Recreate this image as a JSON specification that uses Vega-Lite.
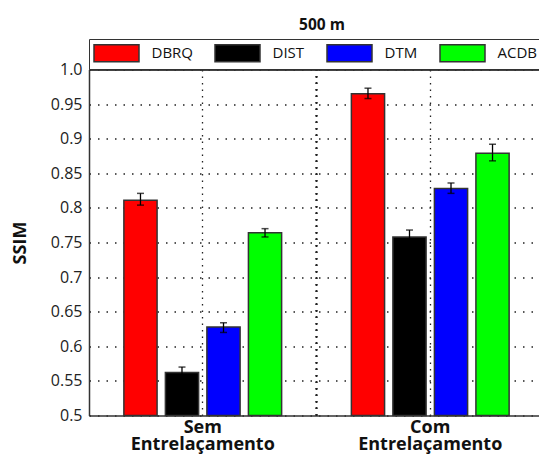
{
  "$schema": "https://vega.github.io/schema/vega-lite/v6.json",
  "width": 450,
  "height": 346,
  "autosize": {"type": "none"},
  "padding": {"left": 89, "top": 69.5, "right": 0, "bottom": 38.5},
  "config": {"view": {"stroke": null}, "font": "Open Sans"},
  "title": {"text": "500 m", "fontSize": 15.5, "fontWeight": "bold", "font": "Open Sans", "color": "#111", "anchor": "middle", "dx": 8, "offset": 5},
  "data": {"values": [
    {"cond": "Sem Entrelaçamento", "method": "DBRQ", "ssim": 0.811, "lo": 0.804, "hi": 0.821},
    {"cond": "Sem Entrelaçamento", "method": "DIST", "ssim": 0.562, "lo": 0.553, "hi": 0.570},
    {"cond": "Sem Entrelaçamento", "method": "DTM", "ssim": 0.628, "lo": 0.620, "hi": 0.634},
    {"cond": "Sem Entrelaçamento", "method": "ACDB", "ssim": 0.764, "lo": 0.758, "hi": 0.770},
    {"cond": "Com Entrelaçamento", "method": "DBRQ", "ssim": 0.965, "lo": 0.958, "hi": 0.973},
    {"cond": "Com Entrelaçamento", "method": "DIST", "ssim": 0.758, "lo": 0.747, "hi": 0.768},
    {"cond": "Com Entrelaçamento", "method": "DTM", "ssim": 0.828, "lo": 0.821, "hi": 0.836},
    {"cond": "Com Entrelaçamento", "method": "ACDB", "ssim": 0.879, "lo": 0.868, "hi": 0.892}
  ]},
  "layer": [
    {
      "mark": {"type": "bar", "stroke": "#333", "strokeWidth": 1.5},
      "encoding": {
        "x": {
          "field": "cond", "type": "nominal",
          "sort": ["Sem Entrelaçamento", "Com Entrelaçamento"],
          "scale": {"range": [0, 455], "paddingInner": 0, "paddingOuter": 0},
          "axis": {"title": null, "labelAngle": 0, "labelExpr": "split(datum.label, ' ')", "labelFontSize": 18, "labelFontWeight": "bold", "labelColor": "#111", "labelLineHeight": 17, "labelPadding": 3, "ticks": false, "domainColor": "#333", "domainWidth": 1.5, "grid": true, "gridColor": "#222", "gridWidth": 1.3, "gridDash": [1.5, 5], "gridOpacity": 1}
        },
        "xOffset": {
          "field": "method", "type": "nominal",
          "sort": ["DBRQ", "DIST", "DTM", "ACDB"],
          "scale": {"paddingInner": 0.2, "paddingOuter": 0.84}
        },
        "y": {
          "field": "ssim", "type": "quantitative",
          "scale": {"domain": [0.5, 1], "nice": false, "zero": false},
          "axis": {"values": [0.5, 0.55, 0.6, 0.65, 0.7, 0.75, 0.8, 0.85, 0.9, 0.95, 1.0], "labelExpr": "datum.value >= 0.999 ? '1.0' : format(datum.value, '.2~f')", "labelFontSize": 16, "labelColor": "#222", "labelPadding": 7, "ticks": false, "labelOverlap": false, "domainColor": "#333", "domainWidth": 1.5, "grid": true, "gridColor": "#222", "gridWidth": 1.3, "gridDash": [1.5, 7], "gridOpacity": 1, "title": "SSIM", "titleFontSize": 18, "titleFontWeight": "bold", "titleColor": "#111", "titleX": -69, "titleY": 173, "titleAngle": -90, "titleAlign": "center", "titleBaseline": "middle"}
        },
        "y2": {"datum": 0.5},
        "color": {
          "field": "method", "type": "nominal",
          "sort": ["DBRQ", "DIST", "DTM", "ACDB"],
          "scale": {"domain": ["DBRQ", "DIST", "DTM", "ACDB"], "range": ["#ff0000", "#000000", "#0000ff", "#00ff00"]},
          "legend": {
            "title": null, "orient": "none", "legendX": 0, "legendY": -30.5,
            "direction": "horizontal", "columns": 4,
            "symbolType": "M-2.5,-0.944H2.5V0.944H-2.5Z", "symbolSize": 324, "symbolOffset": 13.5,
            "symbolStrokeColor": "#333", "symbolStrokeWidth": 1.5, "symbolOpacity": 1,
            "labelFontSize": 15, "labelColor": "#111", "labelOffset": 25, "columnPadding": 19,
            "padding": 4, "strokeColor": "#333", "fillColor": "white"
          }
        }
      }
    },
    {
      "mark": {"type": "rule", "color": "#222", "strokeWidth": 1.3, "strokeDash": [1.5, 5]},
      "encoding": {
        "x": {"datum": "Com Entrelaçamento", "type": "nominal", "bandPosition": 0,
          "axis": {"title": null, "labelAngle": 0, "labelExpr": "split(datum.label, ' ')", "labelFontSize": 18, "labelFontWeight": "bold", "labelColor": "#111", "labelLineHeight": 17, "labelPadding": 3, "ticks": false, "domainColor": "#333", "domainWidth": 1.5, "grid": true, "gridColor": "#222", "gridWidth": 1.3, "gridDash": [1.5, 5], "gridOpacity": 1}}
      }
    },
    {
      "mark": {"type": "rule", "color": "#333", "strokeWidth": 1.5},
      "encoding": {
        "y": {"datum": 1, "type": "quantitative",
          "axis": {"values": [0.5, 0.55, 0.6, 0.65, 0.7, 0.75, 0.8, 0.85, 0.9, 0.95, 1.0], "labelExpr": "datum.value >= 0.999 ? '1.0' : format(datum.value, '.2~f')", "labelFontSize": 16, "labelColor": "#222", "labelPadding": 7, "ticks": false, "labelOverlap": false, "domainColor": "#333", "domainWidth": 1.5, "grid": true, "gridColor": "#222", "gridWidth": 1.3, "gridDash": [1.5, 7], "gridOpacity": 1, "title": "SSIM", "titleFontSize": 18, "titleFontWeight": "bold", "titleColor": "#111", "titleX": -69, "titleY": 173, "titleAngle": -90, "titleAlign": "center", "titleBaseline": "middle"}}
      }
    },
    {
      "mark": {"type": "rule", "color": "#000", "strokeWidth": 1.3},
      "encoding": {
        "x": {"field": "cond", "type": "nominal", "sort": ["Sem Entrelaçamento", "Com Entrelaçamento"],
          "axis": {"title": null, "labelAngle": 0, "labelExpr": "split(datum.label, ' ')", "labelFontSize": 18, "labelFontWeight": "bold", "labelColor": "#111", "labelLineHeight": 17, "labelPadding": 3, "ticks": false, "domainColor": "#333", "domainWidth": 1.5, "grid": true, "gridColor": "#222", "gridWidth": 1.3, "gridDash": [1.5, 5], "gridOpacity": 1}},
        "xOffset": {"field": "method", "type": "nominal", "sort": ["DBRQ", "DIST", "DTM", "ACDB"]},
        "y": {"field": "lo", "type": "quantitative",
          "axis": {"values": [0.5, 0.55, 0.6, 0.65, 0.7, 0.75, 0.8, 0.85, 0.9, 0.95, 1.0], "labelExpr": "datum.value >= 0.999 ? '1.0' : format(datum.value, '.2~f')", "labelFontSize": 16, "labelColor": "#222", "labelPadding": 7, "ticks": false, "labelOverlap": false, "domainColor": "#333", "domainWidth": 1.5, "grid": true, "gridColor": "#222", "gridWidth": 1.3, "gridDash": [1.5, 7], "gridOpacity": 1, "title": "SSIM", "titleFontSize": 18, "titleFontWeight": "bold", "titleColor": "#111", "titleX": -69, "titleY": 173, "titleAngle": -90, "titleAlign": "center", "titleBaseline": "middle"}},
        "y2": {"field": "hi"}
      }
    },
    {
      "mark": {"type": "tick", "color": "#000", "thickness": 1.5, "size": 7},
      "encoding": {
        "x": {"field": "cond", "type": "nominal", "sort": ["Sem Entrelaçamento", "Com Entrelaçamento"],
          "axis": {"title": null, "labelAngle": 0, "labelExpr": "split(datum.label, ' ')", "labelFontSize": 18, "labelFontWeight": "bold", "labelColor": "#111", "labelLineHeight": 17, "labelPadding": 3, "ticks": false, "domainColor": "#333", "domainWidth": 1.5, "grid": true, "gridColor": "#222", "gridWidth": 1.3, "gridDash": [1.5, 5], "gridOpacity": 1}},
        "xOffset": {"field": "method", "type": "nominal", "sort": ["DBRQ", "DIST", "DTM", "ACDB"]},
        "y": {"field": "lo", "type": "quantitative",
          "axis": {"values": [0.5, 0.55, 0.6, 0.65, 0.7, 0.75, 0.8, 0.85, 0.9, 0.95, 1.0], "labelExpr": "datum.value >= 0.999 ? '1.0' : format(datum.value, '.2~f')", "labelFontSize": 16, "labelColor": "#222", "labelPadding": 7, "ticks": false, "labelOverlap": false, "domainColor": "#333", "domainWidth": 1.5, "grid": true, "gridColor": "#222", "gridWidth": 1.3, "gridDash": [1.5, 7], "gridOpacity": 1, "title": "SSIM", "titleFontSize": 18, "titleFontWeight": "bold", "titleColor": "#111", "titleX": -69, "titleY": 173, "titleAngle": -90, "titleAlign": "center", "titleBaseline": "middle"}}
      }
    },
    {
      "mark": {"type": "tick", "color": "#000", "thickness": 1.5, "size": 7},
      "encoding": {
        "x": {"field": "cond", "type": "nominal", "sort": ["Sem Entrelaçamento", "Com Entrelaçamento"],
          "axis": {"title": null, "labelAngle": 0, "labelExpr": "split(datum.label, ' ')", "labelFontSize": 18, "labelFontWeight": "bold", "labelColor": "#111", "labelLineHeight": 17, "labelPadding": 3, "ticks": false, "domainColor": "#333", "domainWidth": 1.5, "grid": true, "gridColor": "#222", "gridWidth": 1.3, "gridDash": [1.5, 5], "gridOpacity": 1}},
        "xOffset": {"field": "method", "type": "nominal", "sort": ["DBRQ", "DIST", "DTM", "ACDB"]},
        "y": {"field": "hi", "type": "quantitative",
          "axis": {"values": [0.5, 0.55, 0.6, 0.65, 0.7, 0.75, 0.8, 0.85, 0.9, 0.95, 1.0], "labelExpr": "datum.value >= 0.999 ? '1.0' : format(datum.value, '.2~f')", "labelFontSize": 16, "labelColor": "#222", "labelPadding": 7, "ticks": false, "labelOverlap": false, "domainColor": "#333", "domainWidth": 1.5, "grid": true, "gridColor": "#222", "gridWidth": 1.3, "gridDash": [1.5, 7], "gridOpacity": 1, "title": "SSIM", "titleFontSize": 18, "titleFontWeight": "bold", "titleColor": "#111", "titleX": -69, "titleY": 173, "titleAngle": -90, "titleAlign": "center", "titleBaseline": "middle"}}
      }
    }
  ]
}
